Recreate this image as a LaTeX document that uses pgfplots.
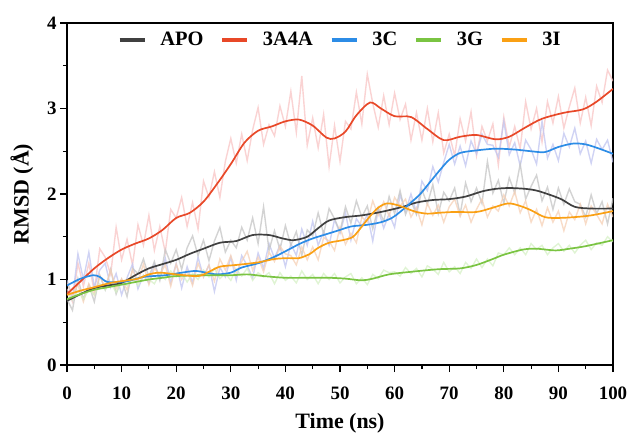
\documentclass[border=0pt]{standalone}
\usepackage{pgfplots}
\usepackage{pgfplotstable}
\pgfplotsset{compat=1.18}
\usepackage{fontspec}
\setmainfont{Liberation Serif}
\definecolor{cApo}{RGB}{64,64,64}
\definecolor{cRed}{RGB}{232,72,40}
\definecolor{cBlue}{RGB}{44,140,230}
\definecolor{cGreen}{RGB}{122,196,66}
\definecolor{cOrange}{RGB}{250,160,20}
\definecolor{nApo}{RGB}{196,196,196}
\definecolor{nRed}{RGB}{248,196,196}
\definecolor{nBlue}{RGB}{192,196,240}
\definecolor{nGreen}{RGB}{214,240,198}
\definecolor{nOrange}{RGB}{246,208,182}
\pgfplotstableread{
t apo red blue green orange
0 0.77 0.89 0.99 0.85 0.96
1 0.64 0.74 0.78 0.76 0.82
2 1.01 1.19 1.30 0.87 0.94
3 0.77 0.92 1.00 0.77 0.74
4 0.94 1.19 1.32 0.88 0.95
5 0.74 0.86 0.91 0.82 0.82
6 1.05 1.36 1.11 0.95 1.05
7 0.88 1.26 1.19 0.88 0.90
8 1.12 1.06 0.91 0.96 1.11
9 0.83 1.61 1.07 0.85 0.89
10 1.00 1.23 0.82 0.97 1.01
11 0.80 1.47 1.02 0.93 0.88
12 1.13 1.17 1.18 1.03 1.11
13 1.07 1.64 0.89 0.93 0.98
14 1.24 1.40 1.05 1.05 1.18
15 1.03 1.75 0.96 1.00 0.94
16 1.21 1.34 1.18 0.95 1.13
17 0.99 1.62 1.01 1.07 1.06
18 1.35 1.32 1.25 1.00 1.17
19 1.19 1.82 0.96 1.10 0.92
20 1.35 1.72 1.19 1.03 1.18
21 1.12 1.96 0.90 1.08 1.00
22 1.37 1.62 1.15 0.97 1.10
23 1.51 1.90 0.96 1.07 0.93
24 1.28 1.59 1.26 1.00 1.19
25 1.46 2.15 1.03 1.11 1.03
26 1.22 1.96 1.17 1.03 1.17
27 1.45 2.26 0.86 1.13 0.98
28 1.61 1.96 1.14 1.01 1.24
29 1.32 2.38 1.03 1.07 1.11
30 1.46 2.65 1.26 0.99 1.28
31 1.37 2.36 0.99 1.12 1.08
32 1.61 2.70 1.28 1.04 1.21
33 1.46 2.39 1.16 1.13 1.33
34 1.72 2.75 1.02 0.99 1.11
35 1.42 3.01 1.31 1.08 1.26
36 1.85 2.58 1.13 1.03 1.09
37 1.34 2.81 1.42 1.08 1.32
38 1.57 2.68 1.25 0.95 1.21
39 1.35 3.03 1.40 1.08 1.39
40 1.63 2.79 1.15 0.99 1.30
41 1.40 3.20 1.42 1.04 1.28
42 1.56 2.72 1.28 0.96 1.17
43 1.28 3.38 1.59 1.10 1.38
44 1.58 2.57 1.40 1.00 1.23
45 1.51 2.89 1.68 1.06 1.38
46 1.78 2.54 1.40 0.95 1.23
47 1.53 2.93 1.56 1.07 1.49
48 1.83 2.32 1.40 1.00 1.45
49 1.71 2.80 1.70 1.07 1.34
50 1.56 2.38 1.54 0.96 1.61
51 1.85 2.85 1.78 1.03 1.41
52 1.66 2.76 1.46 1.07 1.54
53 1.92 3.19 1.71 0.95 1.43
54 1.73 2.82 1.62 1.02 1.73
55 1.86 3.40 1.76 0.94 1.67
56 1.59 3.06 1.45 1.06 1.92
57 1.84 2.78 1.82 1.01 1.75
58 1.68 3.15 1.60 1.11 1.91
59 1.97 2.81 1.77 1.08 1.74
60 1.77 3.18 1.61 1.09 1.96
61 2.04 2.87 1.99 1.04 1.86
62 1.76 3.05 1.80 1.14 1.94
63 1.92 2.63 2.00 1.07 1.73
64 1.76 2.95 1.78 1.13 1.84
65 2.05 2.63 2.15 1.03 1.64
66 1.88 3.00 2.04 1.16 1.89
67 2.11 2.61 2.32 1.12 1.75
68 1.77 2.95 2.14 1.06 1.87
69 2.02 2.48 2.37 1.20 1.67
70 1.92 2.70 2.58 1.09 1.85
71 2.07 2.45 2.35 1.15 1.94
72 1.76 2.88 2.56 1.07 1.74
73 2.13 2.62 2.33 1.20 1.87
74 1.91 2.96 2.62 1.13 1.67
75 2.07 2.45 2.47 1.24 1.82
76 1.89 2.79 2.70 1.14 1.94
77 2.38 2.62 2.58 1.24 1.73
78 2.01 2.82 2.57 1.16 1.86
79 2.16 2.34 2.43 1.31 1.80
80 1.89 2.90 2.85 1.29 1.99
81 2.19 2.55 2.46 1.37 1.86
82 2.01 2.79 2.60 1.29 2.03
83 2.35 2.53 2.33 1.37 1.78
84 1.94 3.08 2.63 1.29 1.92
85 2.09 2.76 2.52 1.42 1.67
86 2.22 3.00 2.35 1.35 1.82
87 1.92 2.61 2.85 1.40 1.63
88 2.08 3.08 2.42 1.29 1.84
89 1.82 2.83 2.58 1.37 1.67
90 2.07 3.14 2.39 1.42 1.80
91 1.88 2.77 2.71 1.33 1.57
92 2.06 3.02 2.55 1.40 1.79
93 1.91 3.24 2.77 1.31 1.70
94 1.88 2.83 2.47 1.40 1.88
95 1.73 3.13 2.62 1.46 1.65
96 1.99 2.80 2.36 1.35 1.86
97 1.77 3.26 2.64 1.43 1.76
98 1.91 3.07 2.52 1.40 1.65
99 1.65 3.45 2.63 1.50 1.88
100 1.95 3.32 2.37 1.44 1.73
}\noisetable
\begin{document}
\begin{tikzpicture}
\begin{axis}[
  name=ax,
  scale only axis,
  width=546bp, height=342bp,
  xmin=0, xmax=100, ymin=0, ymax=4,
  xtick={0,10,...,100}, ytick={0,1,2,3,4},
  minor x tick num=1, minor y tick num=1,
  xtick pos=bottom, ytick pos=left,
  tick align=outside,
  major tick length=7bp, minor tick length=4bp,
  every tick/.style={black, line width=1.2bp},
  axis line style={line width=1.2bp},
  /pgf/number format/assume math mode=true,
  tick label style={font=\bfseries\fontsize{19}{19}\selectfont},
  xticklabel style={yshift=-11bp},
  xlabel={Time (ns)}, ylabel={RMSD (Å)},
  label style={font=\bfseries\fontsize{22}{22}\selectfont},
  xlabel style={yshift=-7bp},
  ylabel style={yshift=7bp},
  legend style={at={(0.505,0.985)}, anchor=north, draw=none, fill=none,
    legend columns=-1, font=\bfseries\fontsize{20.5}{20.5}\selectfont,
    nodes={inner xsep=7bp},
    /tikz/every odd column/.append style={column sep=7bp},
    /tikz/every even column/.append style={column sep=10bp}},
  legend image code/.code={\draw[#1, line width=3.5pt] (0bp,0bp) -- (25bp,0bp);},
]
\addplot[nRed, line width=1.4bp, opacity=0.75, forget plot] table[x=t, y=red] {\noisetable};
\addplot[nBlue, line width=1.4bp, opacity=0.75, forget plot] table[x=t, y=blue] {\noisetable};
\addplot[nApo, line width=1.4bp, opacity=0.75, forget plot] table[x=t, y=apo] {\noisetable};
\addplot[nOrange, line width=1.4bp, opacity=0.75, forget plot] table[x=t, y=orange] {\noisetable};
\addplot[nGreen, line width=1.4bp, opacity=0.75, forget plot] table[x=t, y=green] {\noisetable};
% smooth curves
\addplot[cApo, line width=1.7bp, smooth] coordinates {
(0,0.75) (2.5,0.83) (5,0.90) (7.5,0.93) (10,0.96) (12.5,1.05) (15,1.13) (17.5,1.18) (20,1.23) (22.5,1.30) (25,1.36) (28,1.43) (31,1.45) (34,1.52) (37,1.52) (39.5,1.48) (41.5,1.46) (44,1.50) (46,1.60) (48,1.69) (51,1.73) (54,1.75) (57.5,1.79) (61.5,1.85) (64,1.90) (67,1.93) (70,1.94) (73,1.97) (76,2.03) (78.5,2.06) (81,2.07) (84,2.06) (86,2.04) (88,2.00) (90.5,1.94) (93,1.85) (96,1.83) (100,1.83)};
\addlegendentry{APO}
\addplot[cRed, line width=1.7bp, smooth] coordinates {
(0,0.83) (2.5,0.98) (5,1.13) (7.5,1.25) (10,1.35) (12.5,1.42) (15,1.48) (17.5,1.58) (20,1.72) (22.5,1.78) (25,1.91) (27.5,2.12) (30,2.35) (32.5,2.6) (35,2.74) (37.5,2.79) (40,2.85) (42.5,2.87) (45,2.80) (47.5,2.66) (49,2.65) (51,2.73) (53,2.92) (55.5,3.07) (57.5,3.0) (60,2.91) (63,2.90) (66,2.76) (69,2.63) (72,2.67) (75,2.69) (78.5,2.64) (81,2.67) (84,2.78) (87,2.88) (91,2.95) (94.5,2.99) (97,3.08) (100,3.23)};
\addlegendentry{3A4A}
\addplot[cBlue, line width=1.7bp, smooth] coordinates {
(0,0.93) (2.5,1.01) (4.8,1.05) (6,1.03) (7.5,0.97) (11,0.98) (14,1.03) (18,1.05) (21,1.08) (23.5,1.10) (25.5,1.08) (27.5,1.06) (30,1.08) (32,1.14) (35,1.19) (37.8,1.26) (40,1.33) (42.7,1.42) (45,1.48) (47,1.52) (50,1.58) (52,1.62) (55,1.64) (57.5,1.67) (59.5,1.72) (61,1.79) (63,1.90) (64.7,2.00) (66.5,2.14) (68.3,2.28) (70,2.40) (72,2.48) (75,2.51) (78.5,2.53) (82,2.52) (85,2.50) (87.5,2.49) (90,2.55) (92.7,2.59) (95,2.58) (97.5,2.53) (100,2.47)};
\addlegendentry{3C}
\addplot[cGreen, line width=1.7bp, smooth] coordinates {
(0,0.77) (2.5,0.83) (5,0.88) (7.5,0.91) (10,0.94) (12.5,0.97) (15,1.00) (17.5,1.02) (20,1.04) (25,1.05) (30,1.05) (33,1.06) (36,1.04) (40,1.02) (44,1.02) (48,1.02) (51,1.01) (54,0.99) (56,1.01) (59,1.06) (63,1.09) (68,1.12) (72,1.13) (75,1.17) (78,1.24) (80,1.29) (83.5,1.35) (86,1.36) (89.5,1.34) (92,1.36) (95,1.39) (100,1.46)};
\addlegendentry{3G}
\addplot[cOrange, line width=1.7bp, smooth] coordinates {
(0,0.82) (2.5,0.87) (5,0.91) (8,0.96) (11,0.99) (13,1.01) (15,1.06) (17,1.08) (20,1.06) (24,1.04) (26,1.09) (28,1.15) (31,1.17) (35,1.20) (38,1.24) (40.5,1.25) (42.5,1.25) (44.5,1.30) (46,1.37) (48,1.43) (50.5,1.46) (52.4,1.50) (54,1.62) (55.5,1.74) (57,1.84) (58.6,1.89) (60.5,1.87) (62.2,1.83) (64,1.79) (66,1.77) (68,1.78) (71,1.79) (75,1.79) (78,1.84) (80.8,1.89) (83,1.86) (85,1.81) (87.5,1.73) (90,1.72) (93,1.73) (96,1.75) (100,1.80)};
\addlegendentry{3I}
\end{axis}
\pgfresetboundingbox
\path[use as bounding box] ([shift={(-67bp,-70bp)}]ax.south west) rectangle ([shift={(17bp,23bp)}]ax.north east);
\end{tikzpicture}
\end{document}
